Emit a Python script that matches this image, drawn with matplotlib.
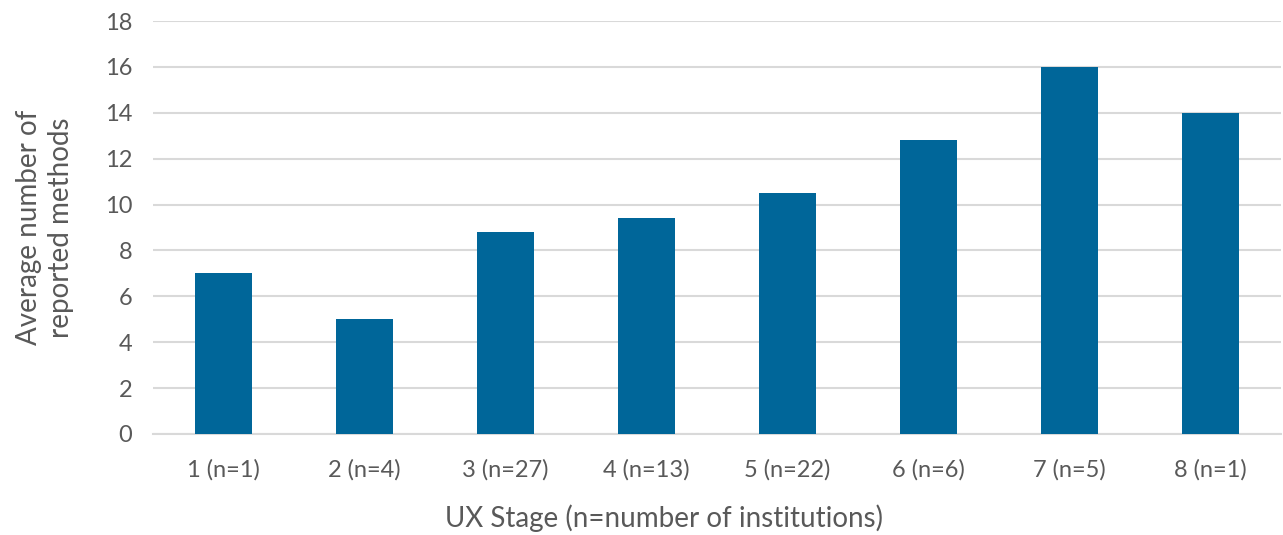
import matplotlib.pyplot as plt
import numpy as np

# ----------------------------- data ------------------------------------
stages = ["1 (n=1)", "2 (n=4)", "3 (n=27)", "4 (n=13)",
          "5 (n=22)", "6 (n=6)", "7 (n=5)", "8 (n=1)"]
avg_methods = [7.0, 5.0, 8.8, 9.4, 10.5, 12.8, 16.0, 14.0]
y_ticks = [0, 2, 4, 6, 8, 10, 12, 14, 16, 18]

# ----------------------------- styling ---------------------------------
TEXT = "#595959"
BAR = "#006699"
GRID = "#d9d9d9"

plt.rcParams.update({
    "font.family": ["Lato", "DejaVu Sans"],
    "font.size": 17,
})

fig = plt.figure(figsize=(12.83, 5.35), dpi=100)
ax = fig.add_axes([153 / 1283, 1 - 434 / 535, (1281 - 153) / 1283, (434 - 21) / 535])

x = np.arange(len(stages))
ax.bar(x, avg_methods, width=0.4, color=BAR, zorder=3)

ax.set_xlim(-0.5, len(stages) - 0.5)
ax.set_ylim(0, 18)
ax.set_yticks(y_ticks)
ax.set_xticks(x)
ax.set_xticklabels(stages)
ax.yaxis.grid(True, color=GRID, lw=1.5, zorder=0)
ax.set_axisbelow(True)

for side in ("top", "right", "left"):
    ax.spines[side].set_visible(False)
ax.spines["bottom"].set_color(GRID)
ax.spines["bottom"].set_linewidth(1.5)

ax.tick_params(axis="both", length=0, colors=TEXT, labelsize=17)
ax.tick_params(axis="x", pad=18)
ax.tick_params(axis="y", pad=15)

ax.set_xlabel("UX Stage (n=number of institutions)", color=TEXT,
              fontsize=20, labelpad=18)
# Excel centres the axis title on the chart area, a bit left of the plot centre
ax.xaxis.set_label_coords(0.453, -0.17)
ax.set_ylabel("Average number of\nreported methods", color=TEXT,
              fontsize=20, labelpad=22, linespacing=1.3)

fig.savefig("out.png", dpi=100)
